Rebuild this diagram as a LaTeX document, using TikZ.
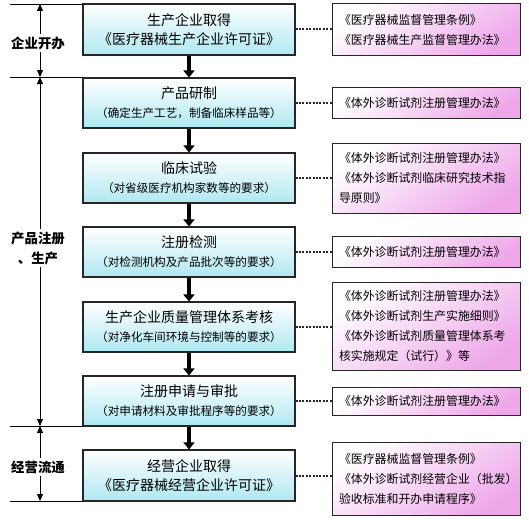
\documentclass[tikz,border=0pt]{standalone}
\usepackage{fontspec}
\newfontfamily\cjk{Noto Sans CJK SC}
\usetikzlibrary{arrows.meta, positioning, shadows}
\definecolor{flowCyan} {HTML}{AEE8F1}
\definecolor{flowPink} {HTML}{EEA8EA}
\definecolor{flowLine} {HTML}{262626}
\newcommand{\stagenote}{\fontsize{11.6}{13}\selectfont}
\tikzset{
  stagebox/.style = {rectangle, draw=flowLine, line width=1.1pt,
                    top color=white, bottom color=flowCyan,
                    minimum width=212pt, align=center, inner sep=0pt,
                    font=\cjk\fontsize{14}{19}\selectfont},
  lawbox/.style   = {rectangle, draw=flowLine, line width=1pt,
                    top color=white, bottom color=flowPink, shading angle=35,
                    drop shadow={shadow xshift=1.3pt, shadow yshift=-1.3pt,
                                 fill=black!55, opacity=1},
                    minimum width=188pt, text width=174pt, align=left,
                    inner sep=0pt, font=\cjk\fontsize{11.9}{20}\selectfont},
  phase/.style    = {font=\cjk\bfseries\fontsize{13.4}{20}\selectfont,
                    align=center, inner sep=2pt},
  flowarrow/.style= {-{Triangle[length=7pt, width=11pt]}, line width=4pt,
                    color=black},
  phasearrow/.style={-{Triangle[length=7pt, width=6pt]}, line width=0.9pt,
                    color=black},
  lawlink/.style  = {dash pattern=on 2pt off 1.4pt, line width=2pt,
                    color=flowLine},
  rule/.style     = {line width=0.9pt, color=black},
}
\begin{document}
\begin{tikzpicture}[x=1pt, y=-1pt]
  \useasboundingbox (0,0) rectangle (529,519);

  % stages
  \node[stagebox, minimum height=51pt] (s1) at (189,29.5)
    {生产企业取得\\《医疗器械生产企业许可证》};
  \node[stagebox, minimum height=50pt] (s2) at (189,103)
    {产品研制\\{\stagenote（确定生产工艺，制备临床样品等）}};
  \node[stagebox, minimum height=50pt] (s3) at (189,178)
    {临床试验\\{\stagenote（对省级医疗机构家数等的要求）}};
  \node[stagebox, minimum height=50pt] (s4) at (189,252)
    {注册检测\\{\stagenote（对检测机构及产品批次等的要求）}};
  \node[stagebox, minimum height=50pt] (s5) at (189,327)
    {生产企业质量管理体系考核\\{\stagenote（对净化车间环境与控制等的要求）}};
  \node[stagebox, minimum height=50pt] (s6) at (189,401)
    {注册申请与审批\\{\stagenote（对申请材料及审批程序等的要求）}};
  \node[stagebox, minimum height=51pt] (s7) at (189,475.5)
    {经营企业取得\\《医疗器械经营企业许可证》};

  % regulations
  \node[lawbox, minimum height=51pt] (r1) at (426,29.5)
    {《医疗器械监督管理条例》\\《医疗器械生产监督管理办法》};
  \node[lawbox, minimum height=31pt] (r2) at (426,102.5)
    {《体外诊断试剂注册管理办法》};
  \node[lawbox, minimum height=70pt] (r3) at (426,178)
    {《体外诊断试剂注册管理办法》\\《体外诊断试剂临床研究技术指\\导原则》};
  \node[lawbox, minimum height=31pt] (r4) at (426,251.5)
    {《体外诊断试剂注册管理办法》};
  \node[lawbox, minimum height=88pt] (r5) at (426,326)
    {《体外诊断试剂注册管理办法》\\《体外诊断试剂生产实施细则》\\《体外诊断试剂质量管理体系考\\核实施规定（试行）》等};
  \node[lawbox, minimum height=28pt] (r6) at (426,401)
    {《体外诊断试剂注册管理办法》};
  \node[lawbox, minimum height=73pt] (r7) at (426,478.5)
    {《医疗器械监督管理条例》\\《体外诊断试剂经营企业（批发）\\验收标准和开办申请程序》};

  \foreach \a/\b in {s1/s2, s2/s3, s3/s4, s4/s5, s5/s6, s6/s7}
    \draw[flowarrow] (\a) -- (\b);
  \foreach \n in {1,...,7}
    \draw[lawlink] (s\n.east) -- (s\n.east -| r\n.west);

  % phases on the left
  \coordinate (g0) at (40,4);
  \coordinate (g1) at (40,77);
  \coordinate (g2) at (40,426);
  \coordinate (g3) at (40,501);
  \foreach \g/\y in {g0/4, g1/77, g2/426, g3/501}
    \draw[rule] (10,\y) -- (83,\y);

  \node[phase] (p1) at (38,43) {企业开办};
  \node[phase] (p2) at (38,248) {产品注册\\、生产};
  \node[phase] (p3) at (38,467) {经营流通};

  \draw[phasearrow] (p1.north -| g0) -- (g0);
  \draw[phasearrow] (p1.south -| g1) -- (g1);
  \draw[phasearrow] (p2.north -| g1) -- (g1);
  \draw[phasearrow] (p2.south -| g2) -- (g2);
  \draw[phasearrow] (p3.north -| g2) -- (g2);
  \draw[phasearrow] (p3.south -| g3) -- (g3);
\end{tikzpicture}
\end{document}
